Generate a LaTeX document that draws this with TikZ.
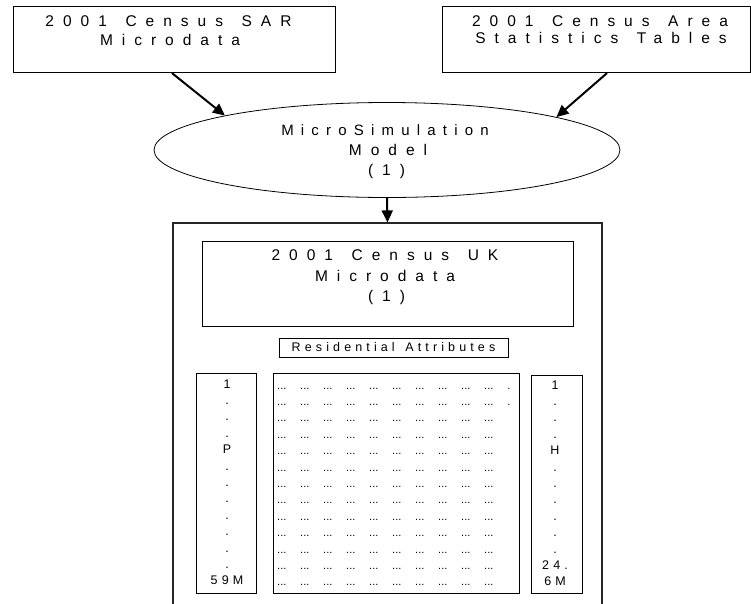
\documentclass[tikz,border=0pt]{standalone}
\usepackage{fontspec}
\setmainfont{Liberation Sans}
\newfontfamily\wideA[LetterSpace=58,WordSpace=1.4]{Liberation Sans}
\newfontfamily\wideC[LetterSpace=48]{Liberation Sans}
\newfontfamily\wideB[LetterSpace=33,WordSpace=1.4]{Liberation Sans}
\usetikzlibrary{shapes.geometric,arrows.meta}
\newcommand{\dgrp}{\makebox[23pt][l]{...}}
\newcommand{\dten}{\dgrp\dgrp\dgrp\dgrp\dgrp\dgrp\dgrp\dgrp\dgrp\dgrp}
\begin{document}
\begin{tikzpicture}[x=1pt,y=-1pt,
  box/.style={draw=black,line width=0.8pt,inner sep=0pt},
  outerbox/.style={draw=black!85,line width=1.2pt,inner sep=0pt},
  big/.style={font=\wideA\fontsize{15.5}{20}\selectfont,inner sep=0pt,anchor=base},
  mid/.style={font=\wideC\fontsize{15}{20}\selectfont,inner sep=0pt,anchor=base},
  small/.style={font=\wideB\fontsize{12.5}{15}\selectfont,inner sep=0pt,anchor=base},
  dotrow/.style={font=\fontsize{11}{13}\selectfont,inner sep=0pt,anchor=base west},
  arr/.style={line width=2pt,-{Triangle[length=12pt,width=11pt]}}]
\useasboundingbox (0,0) rectangle (751,603);
\clip (0,0) rectangle (751,603);
% top boxes
\node[box,minimum width=322pt,minimum height=66pt] (sar) at (174,39.7) {};
\node[big] (sar1) at (168.5,26) {2001 Census SAR};
\node[big] (sar2) at (170,45) {Microdata};
\node[box,minimum width=308pt,minimum height=66pt] (ast) at (596,39.7) {};
\node[big] (ast1) at (600,26) {2001 Census Area};
\node[big] (ast2) at (601,43.5) {Statistics Tables};
% ellipse
\node[draw,ellipse,line width=0.8pt,minimum width=466pt,minimum height=95pt,inner sep=0pt] (mm) at (387,150) {};
\node[mid] (mm1) at (385,135) {MicroSimulation};
\node[big] (mm2) at (388,155) {Model};
\node[big] (mm3) at (386.5,175) {(1)};
% outer container
\node[outerbox,minimum width=429pt,minimum height=390pt] (outer) at (387.5,418) {};
% UK microdata box
\node[box,minimum width=371pt,minimum height=85pt] (uk) at (387.5,283.5) {};
\node[big] (uk1) at (385,260) {2001 Census UK};
\node[big] (uk2) at (385,281) {Microdata};
\node[big] (uk3) at (386.5,301) {(1)};
% residential attributes
\node[box,minimum width=229pt,minimum height=19pt,font=\wideB\fontsize{12.5}{15}\selectfont] (res) at (393.5,347.5) {Residential Attributes};
% columns
\node[box,minimum width=60pt,minimum height=220pt] (pcol) at (226,483) {};
\node[box,minimum width=246pt,minimum height=220pt] (grid) at (396,483) {};
\node[box,minimum width=51pt,minimum height=218pt] (hcol) at (556.5,484) {};
\foreach \t [count=\i from 0] in {1,.,.,.,P,.,.,.,.,.,.,.,59M}
  \node[small] (pl\i) at (227,{388+16.4*\i}) {\t};
\foreach \t [count=\i from 0] in {1,.,.,.,H,.,.,.,.,.,.,24.,6M}
  \node[small] (hl\i) at (555,{389+16.4*\i}) {\t};
\foreach \i in {0,1}
  \node[dotrow] (dr\i) at (277,{389+16.4*\i}) {\dten.};
\foreach \i in {2,...,12}
  \node[dotrow] (dr\i) at (277,{389+16.4*\i}) {\dten};
% arrows
\draw[arr] ([xshift=-2pt]sar.south) -- (mm.168.6);
\draw[arr] ([xshift=11pt]ast.south) -- (mm.11.4);
\draw[arr] (mm.south) -- (outer.north);
\end{tikzpicture}
\end{document}
